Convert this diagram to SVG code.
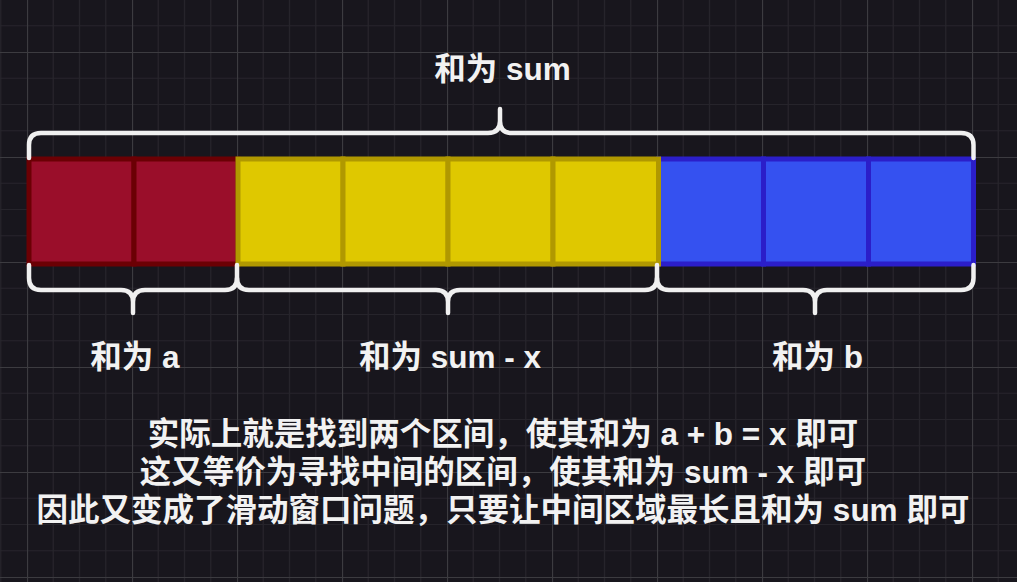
<svg xmlns="http://www.w3.org/2000/svg" width="1017" height="582" viewBox="0 0 1017 582">
<style>
.t{font-family:"Liberation Sans","Noto Sans CJK SC",sans-serif;font-weight:bold;font-size:31.5px;fill:#f2f2f2;text-anchor:middle}
.red{fill:#9a0e2a;stroke:#6b0004;stroke-width:5}
.yel{fill:#dfc800;stroke:#b09800;stroke-width:5}
.blu{fill:#3551f0;stroke:#2b1ec9;stroke-width:5}
.brace{fill:none;stroke:#f0f0f0;stroke-width:4.5;stroke-linecap:round;stroke-linejoin:round}
</style>
<defs>
<pattern id="grid" x="27" y="52" width="105" height="105" patternUnits="userSpaceOnUse">
<path d="M26.25 0V105M52.5 0V105M78.75 0V105M0 26.25H105M0 52.5H105M0 78.75H105" stroke="#26242b" stroke-width="1.2" fill="none"/>
<path d="M0.5 0V105M0 0.5H105" stroke="#3c3b40" stroke-width="1.2" fill="none"/>
</pattern>
</defs>
<rect width="1017" height="582" fill="#18161d"/>
<rect width="1017" height="582" fill="url(#grid)"/>

<g id="seg-a">
<rect class="red" x="29" y="159" width="105" height="105"/>
<rect class="red" x="134" y="159" width="104" height="105"/>
</g>
<g id="seg-b">
<rect class="blu" x="658.5" y="159" width="105" height="105"/>
<rect class="blu" x="763.5" y="159" width="105" height="105"/>
<rect class="blu" x="868.5" y="159" width="105" height="105"/>
</g>
<g id="seg-mid">
<rect class="yel" x="238" y="159" width="105" height="105"/>
<rect class="yel" x="343" y="159" width="105" height="105"/>
<rect class="yel" x="448" y="159" width="105" height="105"/>
<rect class="yel" x="553" y="159" width="105.5" height="105"/>
</g>

<g id="braces">
<path class="brace" d="M29 158V145Q29 133 41 133H488Q500 133 500 121V109M500 121Q500 133 512 133H961Q973.5 133 973.5 145V158"/>
<path class="brace" d="M29 265V278Q29 290 41 290H121Q133 290 133 302V313M133 302Q133 290 145 290H225Q237 290 237 278V265"/>
<path class="brace" d="M237 278Q237 290 249 290H436Q448 290 448 302V313M448 302Q448 290 460 290H645Q657 290 657 278V265"/>
<path class="brace" d="M657 278Q657 290 669 290H803Q815 290 815 302V313M815 302Q815 290 827 290H961Q973.5 290 973.5 278V265"/>
</g>

<g id="label-sum"><text class="t" x="502.5" y="80">和为 sum</text></g>
<g id="label-a"><text class="t" x="135" y="368">和为 a</text></g>
<g id="label-mid"><text class="t" x="450" y="368">和为 sum - x</text></g>
<g id="label-b"><text class="t" x="817.5" y="368">和为 b</text></g>

<g id="caption">
<text class="t" x="503" y="445">实际上就是找到两个区间，使其和为 a + b = x 即可</text>
<text class="t" x="503" y="483">这又等价为寻找中间的区间，使其和为 sum - x 即可</text>
<text class="t" x="503" y="521">因此又变成了滑动窗口问题，只要让中间区域最长且和为 sum 即可</text>
</g>
</svg>
